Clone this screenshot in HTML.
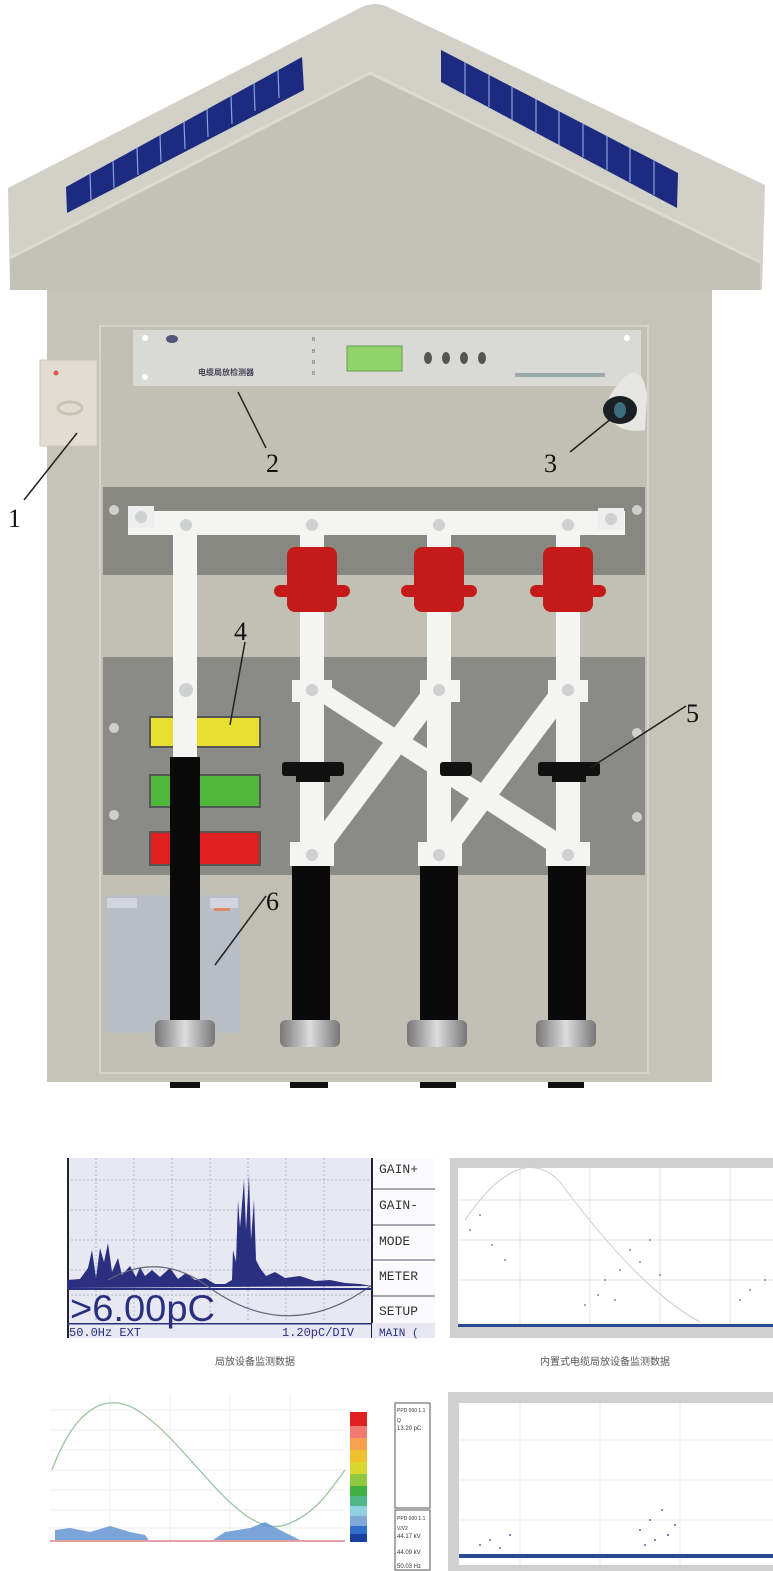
<!DOCTYPE html>
<html><head><meta charset="utf-8"><style>
html,body{margin:0;padding:0;background:#fff;width:773px;height:1571px;overflow:hidden}
svg{display:block}
text{font-family:"Liberation Sans","Noto Sans CJK SC",sans-serif}
</style></head><body>
<svg width="773" height="1571" viewBox="0 0 773 1571" xmlns="http://www.w3.org/2000/svg">
<defs>
<linearGradient id="base" x1="0" x2="1"><stop offset="0" stop-color="#777"/><stop offset=".5" stop-color="#ddd"/><stop offset="1" stop-color="#777"/></linearGradient>
</defs>
<!-- roof -->
<path d="M360,8 Q375,0 390,8 L765,185 L762,290 L10,290 L8,188 Z" fill="#d2d1c8"/>
<path d="M360,78 Q370,70 380,78 L760,262 L760,290 L10,290 L10,258 Z" fill="#c3c2b6"/>
<polyline points="10,258 370,73 760,262" fill="none" stroke="#dcdbd3" stroke-width="3"/>
<polygon points="66,187 302,57 304,90 67,213" fill="#1c2a80"/>
<g stroke="#8aa0e0" stroke-width="1.2">
<line x1="90" y1="174" x2="91" y2="200"/><line x1="113" y1="161" x2="114" y2="188"/><line x1="137" y1="148" x2="138" y2="175"/><line x1="160" y1="135" x2="161" y2="162"/><line x1="184" y1="122" x2="185" y2="149"/><line x1="207" y1="109" x2="208" y2="137"/><line x1="231" y1="96" x2="232" y2="124"/><line x1="254" y1="83" x2="255" y2="111"/><line x1="278" y1="70" x2="279" y2="98"/>
</g>
<polygon points="441,50 678,173 677,208 441,82" fill="#1c2a80"/>
<g stroke="#8aa0e0" stroke-width="1.2">
<line x1="465" y1="62" x2="465" y2="95"/><line x1="489" y1="75" x2="489" y2="107"/><line x1="512" y1="87" x2="512" y2="120"/><line x1="536" y1="99" x2="536" y2="132"/><line x1="559" y1="111" x2="559" y2="145"/><line x1="583" y1="124" x2="583" y2="157"/><line x1="607" y1="136" x2="607" y2="170"/><line x1="630" y1="148" x2="630" y2="182"/><line x1="654" y1="161" x2="654" y2="195"/>
</g>
<!-- body -->
<rect x="47" y="290" width="665" height="792" fill="#c6c4b8"/>
<rect x="100" y="326" width="548" height="747" fill="#c2c0b4" stroke="#d6d5cc" stroke-width="2"/>
<!-- device 2 -->
<rect x="133" y="330" width="508" height="56" fill="#d9d9d6"/>
<circle cx="145" cy="338" r="3" fill="#fff"/><circle cx="145" cy="377" r="3" fill="#fff"/><circle cx="627" cy="338" r="3" fill="#fff"/>
<ellipse cx="172" cy="339" rx="6" ry="4" fill="#557"/>
<text x="198" y="375" font-size="8" fill="#445" font-weight="bold">电缆局放检测器</text>
<g font-size="5" fill="#666"><text x="312" y="341">B</text><text x="312" y="353">B</text><text x="312" y="364">B</text><text x="312" y="375">B</text></g>
<rect x="347" y="346" width="55" height="25" fill="#8fd46a" stroke="#6a9c55"/>
<g fill="#555"><ellipse cx="428" cy="358" rx="4" ry="6"/><ellipse cx="446" cy="358" rx="4" ry="6"/><ellipse cx="464" cy="358" rx="4" ry="6"/><ellipse cx="482" cy="358" rx="4" ry="6"/></g>
<rect x="515" y="373" width="90" height="4" fill="#9aa"/>
<!-- camera 3 -->
<path d="M610,395 Q640,350 647,395 L645,430 Q615,435 605,410 Z" fill="#e6e6e2"/>
<ellipse cx="620" cy="410" rx="17" ry="14" fill="#1a1f26"/><ellipse cx="620" cy="410" rx="6" ry="8" fill="#3b6d7d"/>
<!-- item 1 -->
<rect x="40" y="360" width="57" height="86" fill="#e2ddd0" stroke="#cfc9bc"/>
<circle cx="56" cy="373" r="2.5" fill="#d55"/>
<ellipse cx="70" cy="408" rx="12" ry="6" fill="none" stroke="#c9c3b6" stroke-width="3"/>
<!-- bands -->
<rect x="103" y="487" width="542" height="88" fill="#888882"/>
<rect x="103" y="657" width="542" height="218" fill="#8a8a86"/>
<g fill="#cfcfcc"><circle cx="114" cy="510" r="5"/><circle cx="637" cy="510" r="5"/><circle cx="114" cy="728" r="5"/><circle cx="114" cy="815" r="5"/><circle cx="637" cy="733" r="5"/><circle cx="637" cy="817" r="5"/></g>
<!-- battery 6 -->
<rect x="105" y="895" width="135" height="138" fill="#b8bdc6"/>
<rect x="107" y="898" width="30" height="10" fill="#d2d6dc"/><rect x="210" y="898" width="28" height="10" fill="#d2d6dc"/><rect x="214" y="908" width="16" height="3" fill="#d86"/>
<!-- indicators 4 -->
<rect x="150" y="717" width="110" height="30" fill="#e8e030" stroke="#555" stroke-width="2"/>
<rect x="150" y="775" width="110" height="32" fill="#4db83a" stroke="#555" stroke-width="2"/>
<rect x="150" y="832" width="110" height="33" fill="#e02020" stroke="#555" stroke-width="2"/>
<!-- bus -->
<rect x="128" y="511" width="497" height="24" fill="#f4f4f2"/>
<rect x="128" y="506" width="26" height="22" fill="#eee"/><rect x="598" y="508" width="26" height="22" fill="#eee"/>
<g fill="#cfd0d0"><circle cx="141" cy="517" r="6"/><circle cx="611" cy="519" r="6"/><circle cx="186" cy="525" r="6"/><circle cx="312" cy="525" r="6"/><circle cx="439" cy="525" r="6"/><circle cx="568" cy="525" r="6"/></g>
<!-- left column -->
<rect x="173" y="535" width="24" height="222" fill="#f4f4f2"/>
<circle cx="186" cy="690" r="7" fill="#cfd0d0"/>
<rect x="170" y="757" width="30" height="265" fill="#0a0a0a"/>
<!-- columns -->
<g fill="#f4f4f2">
<rect x="300" y="535" width="24" height="330"/><rect x="427" y="535" width="24" height="330"/><rect x="556" y="535" width="24" height="330"/>
<polygon points="302,690 320,680 578,845 560,858"/>
<polygon points="430,680 448,692 322,860 304,848"/>
<polygon points="558,680 576,692 450,860 432,848"/>
<rect x="292" y="680" width="40" height="22"/><rect x="420" y="680" width="40" height="22"/><rect x="548" y="680" width="40" height="22"/>
<rect x="290" y="842" width="44" height="24"/><rect x="418" y="842" width="44" height="24"/><rect x="546" y="842" width="44" height="24"/>
</g>
<g fill="#cfd0d0"><circle cx="312" cy="690" r="6"/><circle cx="439" cy="690" r="6"/><circle cx="568" cy="690" r="6"/><circle cx="312" cy="855" r="6"/><circle cx="439" cy="855" r="6"/><circle cx="568" cy="855" r="6"/></g>
<!-- red insulators -->
<g fill="#c41a1a">
<rect x="287" y="547" width="50" height="65" rx="8"/><rect x="274" y="585" width="76" height="12" rx="6"/>
<rect x="414" y="547" width="50" height="65" rx="8"/><rect x="401" y="585" width="76" height="12" rx="6"/>
<rect x="543" y="547" width="50" height="65" rx="8"/><rect x="530" y="585" width="76" height="12" rx="6"/>
</g>
<!-- clamps -->
<g fill="#111"><rect x="282" y="762" width="62" height="14" rx="3"/><rect x="296" y="770" width="34" height="12"/>
<rect x="440" y="762" width="32" height="14" rx="3"/>
<rect x="538" y="762" width="62" height="14" rx="3"/><rect x="552" y="770" width="34" height="12"/></g>
<!-- black cylinders -->
<rect x="292" y="866" width="38" height="157" fill="#0a0a0a"/>
<rect x="420" y="866" width="38" height="157" fill="#0a0a0a"/>
<rect x="548" y="866" width="38" height="157" fill="#0a0a0a"/>
<g fill="url(#base)"><rect x="155" y="1020" width="60" height="27" rx="6"/><rect x="280" y="1020" width="60" height="27" rx="6"/><rect x="407" y="1020" width="60" height="27" rx="6"/><rect x="536" y="1020" width="60" height="27" rx="6"/></g>
<g fill="#111"><rect x="170" y="1082" width="30" height="6"/><rect x="290" y="1082" width="38" height="6"/><rect x="420" y="1082" width="36" height="6"/><rect x="548" y="1082" width="36" height="6"/></g>
<!-- labels -->
<g font-size="26" fill="#111">
<text x="8" y="527" style="font-family:'Liberation Serif',serif">1</text>
<text x="266" y="472" style="font-family:'Liberation Serif',serif">2</text>
<text x="544" y="472" style="font-family:'Liberation Serif',serif">3</text>
<text x="234" y="640" style="font-family:'Liberation Serif',serif">4</text>
<text x="686" y="722" style="font-family:'Liberation Serif',serif">5</text>
<text x="266" y="910" style="font-family:'Liberation Serif',serif">6</text>
</g>
<g stroke="#222" stroke-width="1.5">
<line x1="24" y1="500" x2="77" y2="433"/><line x1="266" y1="448" x2="238" y2="392"/><line x1="570" y1="452" x2="612" y2="418"/>
<line x1="245" y1="642" x2="230" y2="725"/><line x1="686" y1="706" x2="590" y2="768"/><line x1="266" y1="896" x2="215" y2="965"/>
</g>

<!-- chart 1 -->
<rect x="67" y="1158" width="305" height="180" fill="#e7e8f2"/>
<g stroke="#b4b6cc" stroke-width="1" stroke-dasharray="2,2">
<line x1="67" y1="1180" x2="372" y2="1180"/><line x1="67" y1="1210" x2="372" y2="1210"/><line x1="67" y1="1240" x2="372" y2="1240"/><line x1="67" y1="1270" x2="372" y2="1270"/><line x1="67" y1="1295" x2="372" y2="1295"/>
<line x1="96" y1="1158" x2="96" y2="1322"/><line x1="134" y1="1158" x2="134" y2="1322"/><line x1="172" y1="1158" x2="172" y2="1322"/><line x1="210" y1="1158" x2="210" y2="1322"/><line x1="248" y1="1158" x2="248" y2="1322"/><line x1="286" y1="1158" x2="286" y2="1322"/><line x1="324" y1="1158" x2="324" y2="1322"/>
</g>
<rect x="67" y="1158" width="2" height="180" fill="#223"/>
<path d="M67,1288 L67,1280 L80,1279 L88,1268 L92,1250 L96,1278 L100,1248 L104,1262 L108,1243 L112,1272 L118,1258 L122,1275 L130,1266 L136,1277 L140,1267 L145,1276 L152,1270 L160,1277 L170,1268 L178,1279 L186,1273 L195,1280 L205,1278 L215,1284 L225,1284 L232,1280 L233,1250 L236,1262 L238,1200 L240,1228 L244,1180 L246,1230 L249,1175 L251,1240 L254,1200 L256,1260 L260,1268 L266,1276 L275,1272 L285,1278 L300,1276 L315,1281 L330,1280 L345,1283 L360,1284 L372,1286 Z" fill="#2a2f80"/>
<path d="M108,1280 Q160,1250 210,1288 Q290,1345 372,1285" fill="none" stroke="#667" stroke-width="1.2"/>
<rect x="67" y="1288" width="305" height="2" fill="#2a2f80"/>
<text x="70" y="1321" font-size="37" fill="#2a2f80" textLength="145" lengthAdjust="spacingAndGlyphs">&gt;6.00pC</text>
<rect x="67" y="1323" width="368" height="1.5" fill="#2a2f80"/>
<text x="69" y="1336" font-size="12" fill="#2a2f80" style="font-family:'Liberation Mono',monospace">50.0Hz EXT</text>
<text x="282" y="1336" font-size="12" fill="#2a2f80" style="font-family:'Liberation Mono',monospace">1.20pC/DIV</text>
<rect x="372" y="1158" width="63" height="165" fill="#fbfbfd"/>
<rect x="371" y="1158" width="2" height="180" fill="#223"/>
<g stroke="#556" stroke-width="1"><line x1="373" y1="1189" x2="435" y2="1189"/><line x1="373" y1="1225" x2="435" y2="1225"/><line x1="373" y1="1260" x2="435" y2="1260"/><line x1="373" y1="1296" x2="435" y2="1296"/></g>
<g font-size="13" fill="#333">
<text x="379" y="1173" style="font-family:'Liberation Mono',monospace">GAIN+</text>
<text x="379" y="1209" style="font-family:'Liberation Mono',monospace">GAIN-</text>
<text x="379" y="1245" style="font-family:'Liberation Mono',monospace">MODE</text>
<text x="379" y="1280" style="font-family:'Liberation Mono',monospace">METER</text>
<text x="379" y="1315" style="font-family:'Liberation Mono',monospace">SETUP</text>
</g>
<rect x="372" y="1323" width="63" height="15" fill="#e7e8f2"/>
<text x="379" y="1336" font-size="11" fill="#2a2f80" style="font-family:'Liberation Mono',monospace">MAIN (</text>

<!-- chart 2 -->
<rect x="450" y="1158" width="323" height="180" fill="#cfcfcf"/>
<rect x="458" y="1168" width="315" height="158" fill="#fff"/>
<g stroke="#e4e4e4"><line x1="458" y1="1200" x2="773" y2="1200"/><line x1="458" y1="1240" x2="773" y2="1240"/><line x1="458" y1="1280" x2="773" y2="1280"/><line x1="520" y1="1168" x2="520" y2="1326"/><line x1="590" y1="1168" x2="590" y2="1326"/><line x1="660" y1="1168" x2="660" y2="1326"/><line x1="730" y1="1168" x2="730" y2="1326"/></g>
<path d="M465,1220 Q520,1140 560,1182 Q640,1290 700,1322" fill="none" stroke="#ccc"/>
<rect x="458" y="1324" width="315" height="3" fill="#2a4a90"/>
<g fill="#888"><circle cx="470" cy="1230" r="1"/><circle cx="480" cy="1215" r="1"/><circle cx="492" cy="1245" r="1"/><circle cx="505" cy="1260" r="1"/><circle cx="598" cy="1295" r="1"/><circle cx="605" cy="1280" r="1"/><circle cx="620" cy="1270" r="1"/><circle cx="630" cy="1250" r="1"/><circle cx="640" cy="1262" r="1"/><circle cx="650" cy="1240" r="1"/><circle cx="660" cy="1275" r="1"/><circle cx="615" cy="1300" r="1"/><circle cx="740" cy="1300" r="1"/><circle cx="750" cy="1290" r="1"/><circle cx="765" cy="1280" r="1"/><circle cx="585" cy="1305" r="1"/></g>

<text x="255" y="1365" font-size="10" fill="#555" text-anchor="middle">局放设备监测数据</text>
<text x="605" y="1365" font-size="10" fill="#555" text-anchor="middle">内置式电缆局放设备监测数据</text>

<!-- chart 3 -->
<g stroke="#eee"><line x1="50" y1="1410" x2="345" y2="1410"/><line x1="50" y1="1430" x2="345" y2="1430"/><line x1="50" y1="1450" x2="345" y2="1450"/><line x1="50" y1="1470" x2="345" y2="1470"/><line x1="50" y1="1490" x2="345" y2="1490"/><line x1="50" y1="1510" x2="345" y2="1510"/><line x1="50" y1="1528" x2="345" y2="1528"/>
<line x1="110" y1="1395" x2="110" y2="1542"/><line x1="170" y1="1395" x2="170" y2="1542"/><line x1="230" y1="1395" x2="230" y2="1542"/><line x1="290" y1="1395" x2="290" y2="1542"/></g>
<path d="M52,1470 C80,1395 115,1395 140,1412 C190,1445 240,1540 285,1525 C315,1515 330,1490 345,1470" fill="none" stroke="#9bc4a4" stroke-width="1.3"/>
<path d="M55,1542 L55,1530 L70,1528 L90,1532 L110,1526 L130,1532 L145,1535 L150,1542 Z" fill="#5a8ed0" opacity=".8"/>
<path d="M210,1542 L225,1532 L250,1528 L265,1522 L280,1530 L300,1540 Z" fill="#5a8ed0" opacity=".8"/>
<rect x="50" y="1540" width="295" height="2" fill="#e2a0a8"/>
<g><rect x="350" y="1412" width="17" height="14" fill="#e02020"/><rect x="350" y="1426" width="17" height="12" fill="#f07a70"/><rect x="350" y="1438" width="17" height="12" fill="#f8a050"/><rect x="350" y="1450" width="17" height="12" fill="#f0c030"/><rect x="350" y="1462" width="17" height="12" fill="#d8d830"/><rect x="350" y="1474" width="17" height="12" fill="#90c840"/><rect x="350" y="1486" width="17" height="10" fill="#40b040"/><rect x="350" y="1496" width="17" height="10" fill="#50b888"/><rect x="350" y="1506" width="17" height="10" fill="#90d0e0"/><rect x="350" y="1516" width="17" height="10" fill="#80a8d8"/><rect x="350" y="1526" width="17" height="8" fill="#3070c8"/><rect x="350" y="1534" width="17" height="8" fill="#1840a0"/></g>
<rect x="395" y="1403" width="35" height="105" fill="#fff" stroke="#555"/>
<rect x="395" y="1510" width="35" height="60" fill="#fff" stroke="#555"/>
<g font-size="5" fill="#333"><text x="397" y="1412">PPD 000 1.1</text><text x="397" y="1422">Q</text><text x="397" y="1430" font-size="6">13.20 pC</text><text x="397" y="1520">PPD 000 1.1</text><text x="397" y="1530">V/V2</text><text x="397" y="1538" font-size="6">44.17 kV</text><text x="397" y="1554" font-size="6">44.09 kV</text><text x="397" y="1568" font-size="6">50.03 Hz</text></g>

<!-- chart 4 -->
<rect x="448" y="1392" width="325" height="179" fill="#d0d0d0"/>
<rect x="459" y="1403" width="314" height="162" fill="#fff"/>
<g stroke="#eee"><line x1="459" y1="1440" x2="773" y2="1440"/><line x1="459" y1="1480" x2="773" y2="1480"/><line x1="459" y1="1520" x2="773" y2="1520"/><line x1="520" y1="1403" x2="520" y2="1565"/><line x1="600" y1="1403" x2="600" y2="1565"/><line x1="680" y1="1403" x2="680" y2="1565"/></g>
<rect x="459" y="1554" width="314" height="4" fill="#2a4a90"/>
<g fill="#4a6ab0"><circle cx="480" cy="1545" r="1"/><circle cx="490" cy="1540" r="1"/><circle cx="500" cy="1548" r="1"/><circle cx="510" cy="1535" r="1"/><circle cx="640" cy="1530" r="1"/><circle cx="650" cy="1520" r="1"/><circle cx="655" cy="1540" r="1"/><circle cx="662" cy="1510" r="1"/><circle cx="668" cy="1535" r="1"/><circle cx="675" cy="1525" r="1"/><circle cx="645" cy="1545" r="1"/></g>
</svg>
</body></html>
